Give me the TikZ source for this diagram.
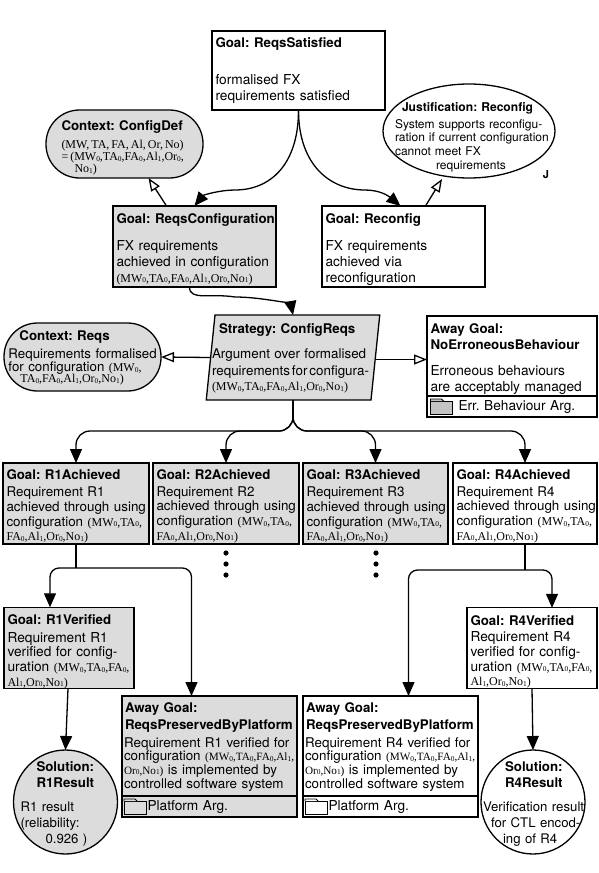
\documentclass[tikz,border=0pt]{standalone}
\usepackage{fontspec}
\setmainfont{TeX Gyre Heros}
\newfontfamily\cfgserif{Liberation Serif}
\usetikzlibrary{arrows.meta,positioning,shapes.geometric}
\definecolor{GoalGray}{HTML}{DCDCDC}
\definecolor{FolderGray}{HTML}{C4C4C4}
\newcommand{\gsnhead}[1]{{\bfseries\fontsize{13.3}{14.6}\selectfont #1}}
\newcommand{\low}[1]{\raisebox{-.7pt}{\fontsize{7.4}{8}\selectfont #1}}
\newcommand{\cfgtxt}[1]{{\cfgserif\fontsize{12}{14.6}\selectfont #1}}
\newcommand{\cfgtight}[1]{{\cfgserif\fontsize{11.2}{14.6}\selectfont #1}}
\tikzset{%
  x=1pt,y=-1pt,
  gsnbox/.style={draw,line width=1.3pt,outer sep=0pt,inner xsep=3.5pt,inner ysep=0pt,
    align=left,font=\fontsize{13.7}{14.6}\selectfont,
    execute at begin node={\frenchspacing\hyphenpenalty=10000\rightskip=-30pt plus 1fil\relax}},
  textdrop/.style={execute at begin node={\rule{0pt}{\dimexpr9.5pt+2\dimexpr#1\relax\relax}}},
  goalbox/.style={gsnbox,text width=#1},
  graybox/.style={fill=GoalGray},
  reqfont/.style={font=\fontsize{13.4}{14.6}\selectfont},
  ctxbox/.style={gsnbox,fill=GoalGray,rounded corners=33.5pt,inner xsep=0pt,
    minimum height=68pt,minimum width=157pt,font=\fontsize{13.3}{13}\selectfont},
  justbox/.style={gsnbox,ellipse,inner xsep=-30pt,inner ysep=-20pt,minimum width=172pt,
    minimum height=94pt,text width=148pt,font=\fontsize{12}{13.4}\selectfont},
  solbox/.style={gsnbox,circle,inner xsep=-30pt,inner ysep=-30pt,minimum size=104pt,
    font=\fontsize{13.2}{14.6}\selectfont},
  stratbox/.style={gsnbox,trapezium,trapezium left angle=83,trapezium right angle=97,
    trapezium stretches=true,inner xsep=-3pt,minimum width=156pt,minimum height=85pt,
    fill=GoalGray,text width=162pt,font=\fontsize{13.4}{14.6}\selectfont},
  footbox/.style={gsnbox,text width=#1,minimum height=21pt},
  flow/.style={-{Triangle[length=14pt,width=12pt]},line width=1.3pt},
  support/.style={-{Triangle[open,fill=white,length=13pt,width=10pt]},line width=1.3pt},
  plainline/.style={line width=1.3pt},
  folder/.pic={
    \draw[line width=.9pt,fill=#1] (0,0) rectangle (22,13);
    \draw[line width=.9pt,fill=#1] (0,0) -- (0,-2) -- (11,-2) -- (13,0);
  }
}
\begin{document}
\begin{tikzpicture}
  \useasboundingbox (0,0) rectangle (598,873);
  % top goal and its two children
  \node[goalbox=166pt,minimum height=79pt] (sat) at (298.5,70.5)
    {\gsnhead{Goal: ReqsSatisfied}\\[23pt]formalised FX\\[1.4pt]requirements satisfied};
  \node[goalbox=156pt,graybox,textdrop=3pt,minimum height=81pt] (conf) at (194.5,246.5)
    {\gsnhead{Goal: ReqsConfiguration}\\[12pt]FX requirements\\[1.4pt]achieved in configuration\\[1.4pt]
     \cfgtxt{(MW\low0,TA\low0,FA\low0,Al\low1,Or\low0,No\low1)}};
  \node[goalbox=156pt,textdrop=3pt,minimum height=81pt,right=46pt of conf] (recon)
    {\gsnhead{Goal: Reconfig}\\[12pt]FX requirements\\[1.4pt]achieved via\\[1.4pt]reconfiguration};
  \node[ctxbox,textdrop=4pt,text width=126pt] (cfgdef) at (124.5,144)
    {\gsnhead{Context: ConfigDef}\\[5pt]
     \cfgtxt{(MW,\,TA,\,FA,\,Al,\,Or,\,No)}\\[-1pt]
     \cfgtxt{=\,(MW\low0,TA\low0,FA\low0,Al\low1,Or\low0,}\\[-1pt]
     \hspace*{13pt}\cfgtxt{No\low1)}};
  \node[justbox,textdrop=6pt] (just) at (469,131)
    {\hspace*{7pt}{\bfseries\fontsize{12.1}{13}\selectfont Justification: Reconfig}\\[4pt]
     System supports reconfigu-\\ration if current configuration\\cannot meet FX\\[1pt]
     \hspace*{41pt}requirements};
  \node[font=\bfseries\fontsize{11}{12}\selectfont,inner sep=0pt] (jmark) at (546,175) {J};

  % strategy row
  \node[stratbox,textdrop=1pt] (strat) at (293,357.5)
    {\hspace*{7pt}\gsnhead{Strategy: ConfigReqs}\\[11pt]Argument over formalised\\[2pt]
     {\spaceskip=2pt requirements for configura-}\\[.4pt]\cfgtxt{(MW\low0,TA\low0,FA\low0,Al\low1,Or\low0,No\low1)}};
  \node[ctxbox,textdrop=1.5pt,text width=148pt] (reqs) at (82.5,357)
    {\hspace*{11pt}\gsnhead{Context: Reqs}\\[5pt]Requirements formalised\\
     for configuration \cfgtxt{(MW\low0,}\\[-2pt]
     \hspace*{12pt}\cfgtxt{TA\low0,FA\low0,Al\low1,Or\low0,No\low1)}};
  \node[goalbox=163pt,textdrop=3pt,minimum height=80pt] (noerr) at (512,356)
    {\gsnhead{Away Goal:}\\[1.4pt]\gsnhead{NoErroneousBehaviour}\\[11pt]
     Erroneous behaviours\\[1.4pt]are acceptably managed};
  \node[footbox=163pt,below=0pt of noerr] (noerrfoot)
    {\hspace*{28pt}Err. Behaviour Arg.};
  \path ([xshift=3.5pt,yshift=-1pt]noerrfoot.north west) ++(0,4) pic {folder=FolderGray};

  % requirement goals
  \node[goalbox=139pt,graybox,reqfont,textdrop=3pt,minimum height=81pt] (r1) at (76,503.5)
    {\gsnhead{Goal: R1Achieved}\\[3pt]Requirement R1\\achieved through using\\
     configuration \cfgtxt{(MW\low0,TA\low0,}\\\cfgtxt{FA\low0,Al\low1,Or\low0,No\low1)}};
  \node[goalbox=139pt,graybox,reqfont,textdrop=3pt,minimum height=81pt,right=4pt of r1] (r2)
    {\gsnhead{Goal: R2Achieved}\\[2pt]Requirement R2\\achieved through using\\
     configuration \cfgtxt{(MW\low0,TA\low0,}\\\cfgtxt{FA\low0,Al\low1,Or\low0,No\low1)}};
  \node[goalbox=138pt,graybox,reqfont,textdrop=3pt,minimum height=81pt,right=4pt of r2] (r3)
    {\gsnhead{Goal: R3Achieved}\\[3pt]Requirement R3\\achieved through using\\
     configuration \cfgtxt{(MW\low0,TA\low0,}\\\cfgtxt{FA\low0,Al\low1,Or\low0,No\low1)}};
  \node[goalbox=137pt,reqfont,textdrop=3pt,minimum height=81pt,right=5pt of r3] (r4)
    {\gsnhead{Goal: R4Achieved}\\[2pt]Requirement R4\\achieved through using\\
     configuration \cfgtxt{(MW\low0,TA\low0,}\\\cfgtxt{FA\low0,Al\low1,Or\low0,No\low1)}};
  \foreach \x in {226,376}
    \foreach \y in {553,564,575}
      \fill (\x,\y) circle (2.6pt);

  % verification goals
  \node[goalbox=123pt,graybox,textdrop=4pt,minimum height=80pt] (r1ver) at (69,648)
    {\gsnhead{Goal: R1Verified}\\[3pt]Requirement R1\\verified for config-\\
     uration \cfgtxt{(MW\low0,TA\low0,FA\low0,}\\\cfgtxt{Al\low1,Or\low0,No\low1)}};
  \node[goalbox=123pt,textdrop=4pt,minimum height=80pt] (r4ver) at (532,648)
    {\gsnhead{Goal: R4Verified}\\[2pt]Requirement R4\\verified for config-\\
     uration \cfgtxt{(MW\low0,TA\low0,FA\low0,}\\\cfgtxt{Al\low1,Or\low0,No\low1)}};

  % away goals at the bottom
  \node[goalbox=171pt,graybox,inner xsep=2pt,reqfont,textdrop=1pt,minimum height=100pt] (away1) at (209.5,746)
    {\hspace*{1pt}\gsnhead{Away Goal:}\\[2.4pt]\hspace*{1pt}\gsnhead{ReqsPreservedByPlatform}\\[3.4pt]
     Requirement R1 verified for\\[-1pt]configuration \cfgtight{(MW\low0,TA\low0,FA\low0,Al\low1,}\\[-1pt]
     \cfgtight{Or\low0,No\low1)} is implemented by\\[-.4pt]controlled software system};
  \node[footbox=168pt,graybox,below=0pt of away1] (away1foot) {\hspace*{22pt}Platform Arg.};
  \path ([xshift=2pt,yshift=-1pt]away1foot.north west) ++(0,4) pic {folder=GoalGray};
  \node[goalbox=171pt,inner xsep=2pt,reqfont,textdrop=1pt,minimum height=100pt,right=6pt of away1] (away2)
    {\hspace*{1pt}\gsnhead{Away Goal:}\\[2.4pt]\hspace*{1pt}\gsnhead{ReqsPreservedByPlatform}\\[3.4pt]
     Requirement R4 verified for\\[-1pt]configuration \cfgtight{(MW\low0,TA\low0,FA\low0,Al\low1,}\\[-1pt]
     \cfgtight{Or\low0,No\low1)} is implemented by\\[-.4pt]controlled software system};
  \node[footbox=168pt,below=0pt of away2] (away2foot) {\hspace*{22pt}Platform Arg.};
  \path ([xshift=2pt,yshift=-1pt]away2foot.north west) ++(0,4) pic {folder=white};

  % solutions
  \node[solbox,fill=GoalGray,textdrop=2.5pt,text width=90pt] (r1sol) at (65.5,802)
    {\hspace*{16pt}\gsnhead{Solution:}\\[1pt]\hspace*{16pt}\gsnhead{R1Result}\\[10pt]
     R1 result\\[1.4pt](reliability:\\[1.4pt]\hspace*{25pt}0.926 )};
  \node[solbox,textdrop=2.5pt,text width=100pt] (r4sol) at (533,802)
    {\hspace*{22pt}\gsnhead{Solution:}\\[1pt]\hspace*{22pt}\gsnhead{R4Result}\\[10pt]
     Verification result\\[1.4pt]\hspace*{8pt}for CTL encod-\\[1.4pt]\hspace*{20pt}ing of R4};

  % connectors
  \draw[flow] (sat.south) .. controls +(0,55) and +(35,0) .. (235,190)
    .. controls +(-15,0) and +(9,-11) .. (conf.north);
  \draw[flow] (sat.south) .. controls +(0,55) and +(-35,0) .. (365,190)
    .. controls +(15,0) and +(-12,-10) .. ([xshift=-3pt]recon.north);
  \draw[support] ([xshift=-28pt]conf.north) -- ([xshift=24pt]cfgdef.south);
  \draw[support] ([xshift=22pt]recon.north) -- ([xshift=-27pt,yshift=-1pt]just.south);
  \draw[flow] ([xshift=-5pt]conf.south) .. controls +(0,14) and +(-25,-4) .. (235,297)
    .. controls +(28,0) and +(-2,-10) .. (strat.north);
  \draw[support] (strat.west) -- (reqs.east);
  \draw[support] ([yshift=-2pt]strat.east) -- ([yshift=-2pt]strat.east -| noerr.west);
  \draw[flow,rounded corners=14pt] (strat.south) |- ([yshift=32pt]r1.north) -- (r1.north);
  \draw[flow,rounded corners=14pt] (strat.south) |- ([yshift=32pt]r2.north) -- (r2.north);
  \draw[flow,rounded corners=14pt] (strat.south) |- ([yshift=32pt]r3.north) -- (r3.north);
  \draw[flow,rounded corners=14pt] (strat.south) |- ([yshift=32pt]r4.north) -- (r4.north);
  \coordinate (r1fork) at ([yshift=-24pt]r1.south);
  \coordinate (r4fork) at ([yshift=-26pt]r4.south);
  \draw[plainline] (r1.south) -- (r1fork);
  \draw[plainline] (r4.south) -- (r4fork);
  \draw[flow,rounded corners=9pt] (r1fork) -| ([xshift=-19pt]r1ver.north);
  \draw[flow,rounded corners=9pt] (r1fork) -| ([xshift=-18pt]away1.north);
  \draw[flow,rounded corners=9pt] (r4fork) -| ([xshift=20pt]r4ver.north);
  \draw[flow,rounded corners=9pt] (r4fork) -| ([xshift=18pt]away2.north);
  \draw[flow] ([xshift=-1pt]r1ver.south) -- (r1sol.north);
  \draw[flow] (r4ver.south) -- (r4sol.north);
\end{tikzpicture}
\end{document}
